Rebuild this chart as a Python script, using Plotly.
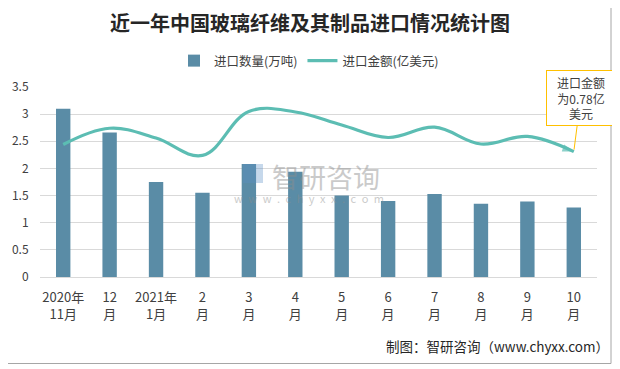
import plotly.graph_objects as go

categories = ["2020年<br>11月", "12<br>月", "2021年<br>1月", "2<br>月", "3<br>月", "4<br>月",
              "5<br>月", "6<br>月", "7<br>月", "8<br>月", "9<br>月", "10<br>月"]
import_volume = [3.10, 2.66, 1.75, 1.55, 2.08, 1.94, 1.50, 1.40, 1.53, 1.35, 1.39, 1.28]
import_value = [2.44, 2.74, 2.56, 2.24, 3.05, 3.04, 2.80, 2.57, 2.76, 2.45, 2.59, 2.31]
y_ticks = [0, 0.5, 1, 1.5, 2, 2.5, 3, 3.5]

FONT = "Noto Sans CJK SC"
BAR_COLOR = "#5A8CA6"
LINE_COLOR = "#5CBDB3"

n = len(categories)
sizes = [10] + [0] * (n - 2) + [12]
symbols = ["circle"] + ["circle"] * (n - 2) + ["arrow"]

fig = go.Figure()
fig.add_trace(go.Bar(
    x=categories, y=import_volume, name="进口数量(万吨)",
    marker=dict(color=BAR_COLOR, line=dict(width=0)), width=0.31,
))
fig.add_trace(go.Scatter(
    x=categories, y=import_value, name="进口金额(亿美元)", mode="lines+markers",
    line=dict(color=LINE_COLOR, width=3.2, shape="spline", smoothing=1.1),
    marker=dict(color=LINE_COLOR, size=sizes, symbol=symbols, angleref="previous",
                line=dict(width=0)),
))

# the page body adds an 8px offset; figure is drawn 8px smaller and shifted
O = 8
FW, FH = 620 - O, 369 - O
# plot area in page px: x 40..597, y 87..277
PL, PR, PT, PB = 40, 597, 87, 277
L, R = PL - O, FW - (PR - O)
T, B = PT - O, FH - (PB - O)
W, H = PR - PL, PB - PT

def px(x):
    return (x - PL) / W

def py(y):
    return (PB - y) / H

def cx(x):
    return (x - O) / FW

def cy(y):
    return 1 - (y - O) / FH

fig.update_layout(
    width=FW, height=FH,
    margin=dict(l=L, r=R, t=T, b=B, autoexpand=False),
    paper_bgcolor="white", plot_bgcolor="white",
    font=dict(family=FONT, color="#404040", size=12),
    title=dict(text="<b>近一年中国玻璃纤维及其制品进口情况统计图</b>",
               x=cx(310), xref="container", xanchor="center",
               y=cy(24), yref="container", yanchor="middle",
               font=dict(family=FONT, size=20, color="#262626")),
    legend=dict(orientation="h", x=cx(309), xref="container", xanchor="center",
                y=cy(61), yref="container", yanchor="middle",
                font=dict(size=12.5, color="#404040"), itemwidth=30,
                traceorder="normal"),
    bargap=0.69,
    showlegend=True,
)
fig.update_xaxes(
    type="category", range=[-0.5, n - 0.5], showgrid=False, showline=True,
    linecolor="#D9D9D9", linewidth=1,
    ticks="outside", ticklen=8, tickcolor="rgba(0,0,0,0)", automargin=False,
    tickfont=dict(size=13, color="#404040"), tickangle=0, fixedrange=True,
)
fig.update_yaxes(
    range=[0, 3.5], tickvals=y_ticks, showgrid=True, gridcolor="#D9D9D9", gridwidth=1,
    zeroline=False, showline=False, automargin=False,
    ticks="outside", ticklen=8, tickcolor="rgba(0,0,0,0)",
    tickfont=dict(size=12, color="#404040"), fixedrange=True,
)

# outer frame
fig.add_shape(type="rect", xref="paper", yref="paper",
              x0=px(6), x1=px(611), y0=py(363.5), y1=py(3.5),
              line=dict(color="#A6A6A6", width=1), fillcolor="rgba(0,0,0,0)", layer="below")

# watermark
fig.add_annotation(xref="paper", yref="paper", x=px(326), y=py(176), text="智研咨询",
                   showarrow=False, font=dict(size=27, color="#8C8C8C"), opacity=0.45)
fig.add_annotation(xref="paper", yref="paper", x=px(309), y=py(198),
                   text="\u2002".join("www.chyxx.com"),
                   showarrow=False, font=dict(size=11, color="#8C8C8C"), opacity=0.45)
fig.add_shape(type="rect", xref="paper", yref="paper",
              x0=px(243), x1=px(263), y0=py(183), y1=py(164),
              line=dict(width=0), fillcolor="rgba(91,143,199,0.35)")

# callout
fig.add_annotation(x=categories[-1], y=import_value[-1], xref="x", yref="y",
                   text="进口金额<br>为0.78亿<br>美元", showarrow=True,
                   ax=7, ay=-54, arrowhead=0, arrowwidth=1, arrowcolor="#FFC000",
                   standoff=2,
                   bordercolor="#FFC000", borderwidth=1, bgcolor="white", borderpad=3,
                   width=62, align="center", font=dict(size=12, color="#404040"))

# footer
fig.add_annotation(xref="paper", yref="paper", x=px(611), y=py(346), xanchor="right",
                   yanchor="middle", text="制图：智研咨询（www.chyxx.com）", showarrow=False,
                   font=dict(size=13.5, color="#262626"))

fig.write_html("out.html")
